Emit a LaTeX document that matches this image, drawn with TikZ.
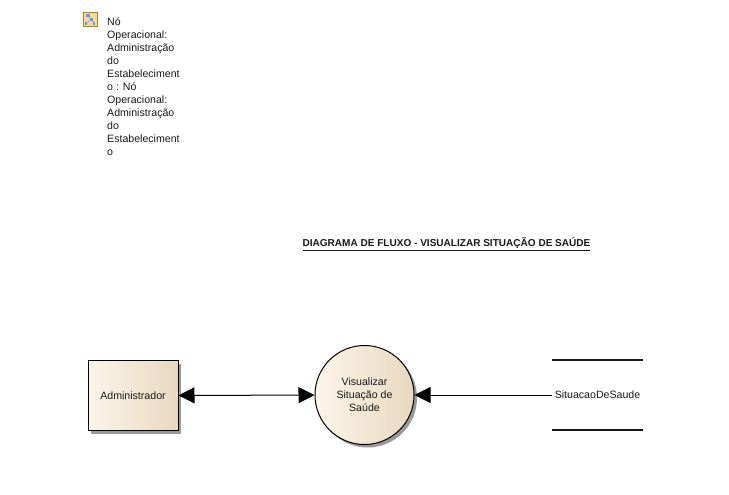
\documentclass[tikz,border=0pt]{standalone}
\usepackage{fontspec}
\setmainfont{Liberation Sans}
\usetikzlibrary{arrows.meta,shadows}
\definecolor{fillleft}{HTML}{FCF5EA}
\definecolor{fillmid}{HTML}{F8EFE0}
\definecolor{fillright}{HTML}{E8D8C0}
\definecolor{iconborder}{HTML}{B8860B}
\definecolor{iconfill}{HTML}{F8D8A8}
\definecolor{iconblue}{HTML}{5A9BE8}
\begin{document}
\begin{tikzpicture}[
		x=1pt, y=-1pt,
		every node/.style={font=\fontsize{10.6}{13}\selectfont, text=black!90, inner sep=0},
		element/.style={draw=black, line width=1pt, left color=fillleft, middle color=fillmid, right color=fillright, align=center, drop shadow={shadow xshift=3pt, shadow yshift=-3pt, fill=black!40, opacity=1}},
		flow/.style={line width=1pt, -{Triangle[length=16pt, width=16pt]}},
		storeline/.style={line width=1.6pt, black!90},
		iconlink/.style={iconblue, line width=0.7pt},
	]
	\useasboundingbox (0,0) rectangle (729,495);
	\node[draw=iconborder, line width=1pt, fill=iconfill, minimum size=14pt] (icon) at (90,19.5) {};
	\node[fill=iconblue, minimum width=4pt, minimum height=3pt] (icontop) at (87.5,15.5) {};
	\node[fill=iconblue, minimum width=3pt, minimum height=3pt] (iconmid) at (91,19.5) {};
	\node[fill=iconblue, minimum width=2.5pt, minimum height=3pt] (iconleft) at (86,23.5) {};
	\node[fill=iconblue, minimum width=2.5pt, minimum height=3pt] (iconright) at (94,23.5) {};
	\draw[iconlink] (icontop) -- (iconmid);
	\draw[iconlink] (iconmid) -- (iconleft);
	\draw[iconlink] (iconmid) -- (iconright);
	\node[anchor=north west, align=left] (opnode) at (107,17.5) {Nó\\Operacional:\\Administração\\do\\Estabeleciment\\o : Nó\\Operacional:\\Administração\\do\\Estabeleciment\\o};
	\node[font=\fontsize{10.04}{13}\selectfont\bfseries] (title) at (446.5,244) {\underline{DIAGRAMA DE FLUXO - VISUALIZAR SITUAÇÃO DE SAÚDE}};
	\node[element, minimum width=90pt, minimum height=70pt] (admin) at (133,395.5) {Administrador};
	\node[element, circle, minimum size=99pt] (visualizar) at (364.5,395) {Visualizar\\Situação de\\Saúde};
	\node[minimum width=91pt, minimum height=70pt] (situacao) at (597.5,395) {SituacaoDeSaude};
	\draw[storeline] (situacao.north west) -- (situacao.north east);
	\draw[storeline] (situacao.south west) -- (situacao.south east);
	\draw[flow, {Triangle[length=16pt, width=16pt]}-{Triangle[length=16pt, width=16pt]}] (admin) -- (visualizar);
	\draw[flow] (situacao.west) -- (visualizar);
\end{tikzpicture}
\end{document}
